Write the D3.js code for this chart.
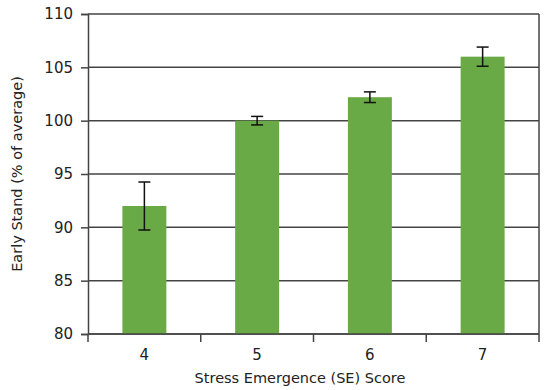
<!DOCTYPE html>
<html><head><meta charset="utf-8">
<script src="https://cdn.jsdelivr.net/npm/d3@7"></script>
<style>body{margin:0;background:#fff}</style>
</head><body>
<svg id="c" width="548" height="390"></svg>
<script>
const categories = ["4","5","6","7"];
const values = [92, 100, 102.2, 106];
const errors = [2.25, 0.4, 0.5, 0.9];
const yTicks = [80, 85, 90, 95, 100, 105, 110];

const svg = d3.select("#c");
const m = {l:88, r:539, t:14, b:334};
const x = d3.scaleBand().domain(categories).range([m.l, m.r]).paddingInner(0.61).paddingOuter(0.305);
const y = d3.scaleLinear().domain([80,110]).range([m.b, m.t]);
const font = "DejaVu Sans, Verdana, sans-serif";
const axisColor = "#444";

// gridlines
svg.append("g").selectAll("line").data(yTicks).join("line")
  .attr("x1", m.l).attr("x2", m.r).attr("y1", d=>y(d)).attr("y2", d=>y(d))
  .attr("stroke", axisColor).attr("stroke-width", 1.5);
// right border
svg.append("line").attr("x1", m.r).attr("x2", m.r).attr("y1", m.t).attr("y2", m.b)
  .attr("stroke", axisColor).attr("stroke-width", 1.5);

// bars
svg.append("g").selectAll("rect").data(values).join("rect")
  .attr("x", (d,i)=>x(categories[i])).attr("width", x.bandwidth())
  .attr("y", d=>y(d)).attr("height", d=>y(80)-y(d))
  .attr("fill", "#6aaa46");

// error bars
const eg = svg.append("g").attr("stroke","#111").attr("stroke-width",1.5);
values.forEach((v,i)=>{
  const cx = x(categories[i]) + x.bandwidth()/2;
  eg.append("line").attr("x1",cx).attr("x2",cx).attr("y1",y(v+errors[i])).attr("y2",y(v-errors[i]));
  eg.append("line").attr("x1",cx-6).attr("x2",cx+6).attr("y1",y(v+errors[i])).attr("y2",y(v+errors[i]));
  eg.append("line").attr("x1",cx-6).attr("x2",cx+6).attr("y1",y(v-errors[i])).attr("y2",y(v-errors[i]));
});

// y axis
const ya = svg.append("g").attr("transform",`translate(${m.l},0)`)
  .call(d3.axisLeft(y).tickValues(yTicks).tickSize(7).tickPadding(8).tickFormat(d3.format("d")));
ya.select(".domain").attr("stroke", axisColor).attr("stroke-width",1.5);
ya.selectAll(".tick line").attr("stroke", axisColor).attr("stroke-width",1.5);
ya.selectAll("text").attr("font-family", font).attr("font-size", 15).attr("fill","#222");

// x axis
const xb = d3.scaleLinear().domain([0,4]).range([m.l, m.r]);
const xa = svg.append("g").attr("transform",`translate(0,${m.b})`);
xa.append("line").attr("x1",m.l).attr("x2",m.r).attr("stroke",axisColor).attr("stroke-width",1.5);
xa.selectAll("line.t").data(d3.range(5)).join("line").attr("class","t")
  .attr("x1",d=>xb(d)).attr("x2",d=>xb(d)).attr("y1",0).attr("y2",8)
  .attr("stroke",axisColor).attr("stroke-width",1.5);
xa.selectAll("text").data(categories).join("text")
  .attr("x", d=>x(d)+x.bandwidth()/2).attr("y", 26)
  .attr("text-anchor","middle").attr("font-family",font).attr("font-size",15).attr("fill","#222")
  .text(d=>d);

// titles
svg.append("text").attr("x", 300).attr("y", 383).attr("text-anchor","middle")
  .attr("font-family",font).attr("font-size",14.5).attr("fill","#222").text("Stress Emergence (SE) Score");
svg.append("text").attr("transform","translate(22,174) rotate(-90)").attr("text-anchor","middle")
  .attr("font-family",font).attr("font-size",14.5).attr("fill","#222").text("Early Stand (% of average)");
</script>
</body></html>
